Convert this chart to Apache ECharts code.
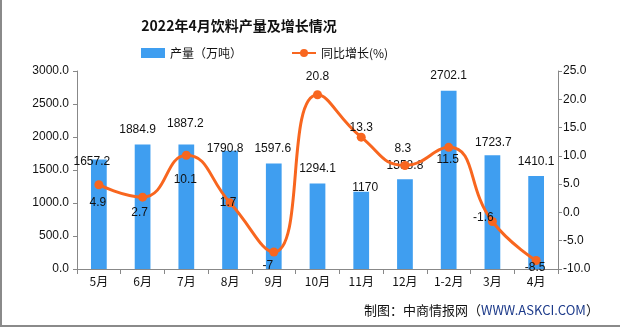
<!DOCTYPE html>
<html>
<head>
<meta charset="utf-8">
<script src="https://cdn.jsdelivr.net/npm/echarts@6/dist/echarts.min.js"></script>
<style>
html,body{margin:0;padding:0;background:#fff;}
#wrap{position:relative;width:620px;height:327px;}
#chart{width:620px;height:327px;}
#bl{position:absolute;left:0;top:0;width:2px;height:327px;background:#8a8a8a;}
#bb{position:absolute;left:0;top:325px;width:620px;height:2px;background:#8a8a8a;}
</style>
</head>
<body>
<div id="wrap"><div id="chart"></div><div id="bl"></div><div id="bb"></div></div>
<script>
var titleText = '2022年4月饮料产量及增长情况';
var categories = ['5月','6月','7月','8月','9月','10月','11月','12月','1-2月','3月','4月'];
var outputValues = [1657.2, 1884.9, 1887.2, 1790.8, 1597.6, 1294.1, 1170, 1358.8, 2702.1, 1723.7, 1410.1];
var growthValues = [4.9, 2.7, 10.1, 1.7, -7, 20.8, 13.3, 8.3, 11.5, -1.6, -8.5];
var leftTicks = [0, 500, 1000, 1500, 2000, 2500, 3000];
var rightTicks = [-10, -5, 0, 5, 10, 15, 20, 25];
var seriesNames = ['产量（万吨）', '同比增长(%)'];

// label placement tweaks (styling only)
var barLabelOffsets = [[-7,8],[-5,-9],[-1,-15],[-5,4],[-1,-9],[0,-9],[4,2],[0,-8],[0,-9],[1,-7],[0,-8]];
var lineLabelOffsets = [[-1,18],[-3,16],[-1,24],[-2,0],[-6,14],[0,-18],[0,-10],[-2,-17],[-1,12],[-9,-4],[-1,7]];

var numFont = 'Liberation Sans';
var cjkFont = 'Noto Sans CJK SC';

var chart = echarts.init(document.getElementById('chart'));
var barData = outputValues.map(function(v, i){
  return {value: v, label: {offset: barLabelOffsets[i]}};
});
var lineData = growthValues.map(function(v, i){
  return {value: v, label: {offset: lineLabelOffsets[i]}};
});

var legendText = {fontFamily: cjkFont, fontSize: 12, color: '#111'};

chart.setOption({
  animation: false,
  backgroundColor: '#fff',
  title: {
    text: titleText, left: 234, top: 14, textAlign: 'center',
    textStyle: {fontFamily: cjkFont, fontSize: 14, fontWeight: 'bold', color: '#111'}
  },
  legend: [
    {
      left: 141, top: 47, padding: 0, itemWidth: 24, itemHeight: 10,
      textStyle: legendText,
      data: [{name: seriesNames[0], icon: 'rect'}]
    },
    {
      left: 291, top: 47, padding: 0, itemWidth: 24, itemHeight: 10,
      textStyle: legendText,
      data: [{name: seriesNames[1]}]
    }
  ],
  grid: {left: 77, right: 62, top: 71, bottom: 58},
  xAxis: {
    type: 'category', data: categories,
    axisLine: {lineStyle: {color: '#888'}},
    axisTick: {show: true, length: 5, lineStyle: {color: '#888'}},
    axisLabel: {fontFamily: cjkFont, fontSize: 12, color: '#111', margin: 6, interval: 0}
  },
  yAxis: [
    {
      type: 'value', min: leftTicks[0], max: leftTicks[leftTicks.length-1], interval: 500,
      axisLine: {show: true, lineStyle: {color: '#888'}},
      axisTick: {show: true, length: 4, lineStyle: {color: '#888'}},
      splitLine: {show: false},
      axisLabel: {fontFamily: numFont, fontSize: 12, color: '#111', margin: 8,
        formatter: function(v){ return v.toFixed(1); }}
    },
    {
      type: 'value', min: rightTicks[0], max: rightTicks[rightTicks.length-1], interval: 5,
      position: 'right',
      axisLine: {show: true, lineStyle: {color: '#888'}},
      axisTick: {show: true, length: 4, lineStyle: {color: '#888'}},
      splitLine: {show: false},
      axisLabel: {fontFamily: numFont, fontSize: 12, color: '#111', margin: 5,
        formatter: function(v){ return v.toFixed(1); }}
    }
  ],
  series: [
    {
      name: seriesNames[0], type: 'bar', yAxisIndex: 0, data: barData,
      barWidth: '36%',
      itemStyle: {color: '#3f9ef0'},
      label: {show: true, position: 'top', distance: 0, fontFamily: numFont, fontSize: 12, color: '#111'}
    },
    {
      name: seriesNames[1], type: 'line', yAxisIndex: 1, data: lineData,
      smooth: 0.5, symbol: 'circle', symbolSize: 9,
      lineStyle: {color: '#f8661f', width: 3},
      itemStyle: {color: '#f8661f'},
      label: {show: true, position: 'inside', fontFamily: numFont, fontSize: 12, color: '#111'}
    }
  ],
  graphic: [
    {
      type: 'text', left: 364, top: 304,
      style: {
        text: '{a|制图：中商情报网（}{b|WWW.ASKCI.COM}{a|）}',
        rich: {
          a: {fontFamily: cjkFont, fontSize: 13, fill: '#111'},
          b: {fontFamily: cjkFont, fontSize: 13, fill: '#1c3a8a'}
        }
      }
    }
  ]
});
</script>
</body>
</html>
